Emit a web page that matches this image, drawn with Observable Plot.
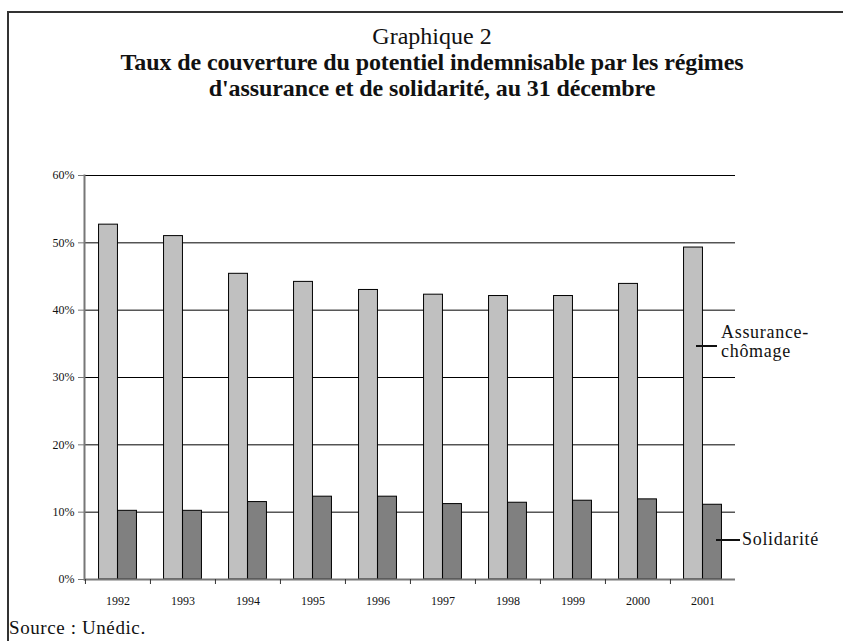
<!DOCTYPE html>
<html>
<head>
<meta charset="utf-8">
<script src="https://cdn.jsdelivr.net/npm/d3@7"></script>
<script src="https://cdn.jsdelivr.net/npm/@observablehq/plot@0.6"></script>
<style>
  html, body { margin: 0; padding: 0; background: #fff; }
  #wrap { position: relative; width: 843px; height: 641px; overflow: hidden; font-family: "Liberation Serif", "Times New Roman", serif; color: #111; }
  .border-top { position: absolute; left: 7px; top: 11px; width: 836px; height: 2px; background: #333; }
  .border-left { position: absolute; left: 7px; top: 11px; width: 1.5px; height: 630px; background: #333; }
  #title { position: absolute; left: 20px; width: 824px; top: 23px; text-align: center; }
  #title .t1 { font-size: 24px; line-height: 26px; }
  #title .t2 { font-size: 24px; font-weight: bold; line-height: 26px; letter-spacing: -0.1px; }
  #chart { position: absolute; left: 0; top: 150px; }
  #chart svg text { font-family: "Liberation Serif", "Times New Roman", serif; fill: #111; }
  .lab { position: absolute; font-size: 18px; line-height: 19px; letter-spacing: 0.7px; }
  .lead { position: absolute; height: 2px; background: #111; }
  #source { position: absolute; left: 9px; top: 617px; font-size: 19px; letter-spacing: 0.6px; }
</style>
</head>
<body>
<div id="wrap">
  <div class="border-top"></div>
  <div class="border-left"></div>
  <div id="title">
    <div class="t1">Graphique 2</div>
    <div class="t2">Taux de couverture du potentiel indemnisable par les régimes<br>d'assurance et de solidarité, au 31 décembre</div>
  </div>
  <div id="chart"></div>
  <div class="lead" style="left:696px; top:345px; width:21px;"></div>
  <div class="lab" style="left:721px; top:323px;">Assurance-<br>chômage</div>
  <div class="lead" style="left:716px; top:539px; width:24px;"></div>
  <div class="lab" style="left:742px; top:530px;">Solidarité</div>
  <div id="source">Source : Unédic.</div>
</div>
<script>
const years = ["1992", "1993", "1994", "1995", "1996", "1997", "1998", "1999", "2000", "2001"];
const assurance = [52.7, 51.0, 45.4, 44.2, 43.0, 42.3, 42.1, 42.1, 43.9, 49.3];
const solidarite = [10.2, 10.2, 11.5, 12.3, 12.3, 11.2, 11.4, 11.7, 11.9, 11.1];
const yTicks = [0, 10, 20, 30, 40, 50, 60];
const gridTicks = [10, 20, 30, 40, 50, 60];

const W = 843, mL = 84, mR = 108;
const step = (W - mL - mR) / years.length;
const barW = 19;
const outer = (step - 2 * barW) / 2;

const dataA = years.map((y, i) => ({year: y, value: assurance[i]}));
const dataS = years.map((y, i) => ({year: y, value: solidarite[i]}));

const plot = Plot.plot({
  width: W,
  height: 462,
  marginTop: 25,
  marginBottom: 33,
  marginLeft: mL,
  marginRight: mR,
  style: {fontFamily: "'Liberation Serif', 'Times New Roman', serif", fontSize: "12px", color: "#111", background: "transparent"},
  x: {type: "band", domain: years, padding: 0, label: null},
  y: {domain: [0, 60], label: null},
  marks: [
    Plot.gridY(gridTicks, {stroke: "#000", strokeOpacity: 1, strokeWidth: 1}),
    Plot.barY(dataA, {x: "year", y: "value", fill: "#c0c0c0", stroke: "#000", strokeWidth: 1, insetLeft: outer, insetRight: outer + barW}),
    Plot.barY(dataS, {x: "year", y: "value", fill: "#808080", stroke: "#000", strokeWidth: 1, insetLeft: outer + barW, insetRight: outer}),
    Plot.ruleY([0], {stroke: "#777", strokeWidth: 2}),
    Plot.frame({anchor: "left", stroke: "#777", strokeWidth: 2}),
    Plot.axisY(yTicks, {tickSize: 6, tickPadding: 4, stroke: "#777", tickFormat: d => d + "%", fontSize: 12, label: null}),
    Plot.axisX({tickSize: 5, tickFormat: () => "", dx: -step / 2, stroke: "#333", label: null}),
    Plot.axisX({tickSize: 0, tickPadding: 17, fontSize: 12, label: null})
  ]
});
document.getElementById("chart").appendChild(plot);
</script>
</body>
</html>
